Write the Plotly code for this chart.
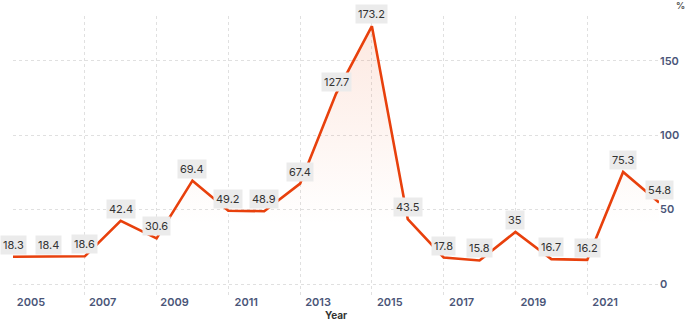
import plotly.graph_objects as go

years = list(range(2005, 2024))
values = [18.3, 18.4, 18.6, 42.4, 30.6, 69.4, 49.2, 48.9, 67.4, 127.7,
          173.2, 43.5, 17.8, 15.8, 35, 16.7, 16.2, 75.3, 54.8]
label_years = years[:-1:2]
y_ticks = [0, 50, 100, 150]

line_color = "#e8400c"
grid_color = "#e0e0e0"
tick_font = dict(family="Inter", size=11, color="#4a5578", weight=600)

fig = go.Figure()
fig.add_trace(go.Scatter(
    x=years, y=values, mode="lines",
    line=dict(color=line_color, width=2.6),
    fill="tozeroy",
    fillgradient=dict(type="vertical", start=40, stop=178,
                      colorscale=[[0, "rgba(240,110,60,0)"], [1, "rgba(240,110,60,0.16)"]]),
    cliponaxis=False, hoverinfo="skip", showlegend=False,
))

for yr, v in zip(years, values):
    fig.add_annotation(x=yr, y=v, text=f"{v:g}", showarrow=False, yshift=12,
                       bgcolor="#ebebeb", borderpad=2,
                       font=dict(family="Inter", size=11, color="#333333"))

fig.add_annotation(xref="paper", yref="paper", x=1.033, y=1.0, xanchor="center",
                   yanchor="middle", yshift=11, text="%",
                   showarrow=False, font=dict(family="Inter", size=9, color="#555555", weight=700))

fig.update_layout(
    width=685, height=325,
    margin=dict(l=13, r=26, t=16, b=27, autoexpand=False),
    paper_bgcolor="white", plot_bgcolor="white",
    xaxis=dict(
        range=[years[0], years[-1]],
        automargin=False,
        tickmode="array",
        tickvals=[y + 0.5 for y in label_years],
        ticktext=[str(y) for y in label_years],
        showgrid=False, zeroline=False, ticks="",
        tickfont=tick_font,
        ticklabelstandoff=-4,
        title=dict(text="Year", font=dict(family="Inter", size=10, color="#333333", weight=700),
                   standoff=0),
        minor=dict(tickmode="array", tickvals=years[::2], showgrid=True,
                   gridcolor=grid_color, griddash="dot", gridwidth=1),
    ),
    yaxis=dict(
        range=[-9.4, 180],
        automargin=False,
        side="right",
        tickmode="array",
        tickvals=y_ticks + [180],
        ticktext=[str(t) for t in y_ticks] + [""],
        showgrid=True, gridcolor=grid_color, griddash="dot", gridwidth=1,
        zeroline=False, ticks="",
        tickfont=tick_font,
        ticklabelstandoff=0,
    ),
)

fig.write_html("out.html", config={"displayModeBar": False},
               post_script="document.body.style.margin='0px';")
